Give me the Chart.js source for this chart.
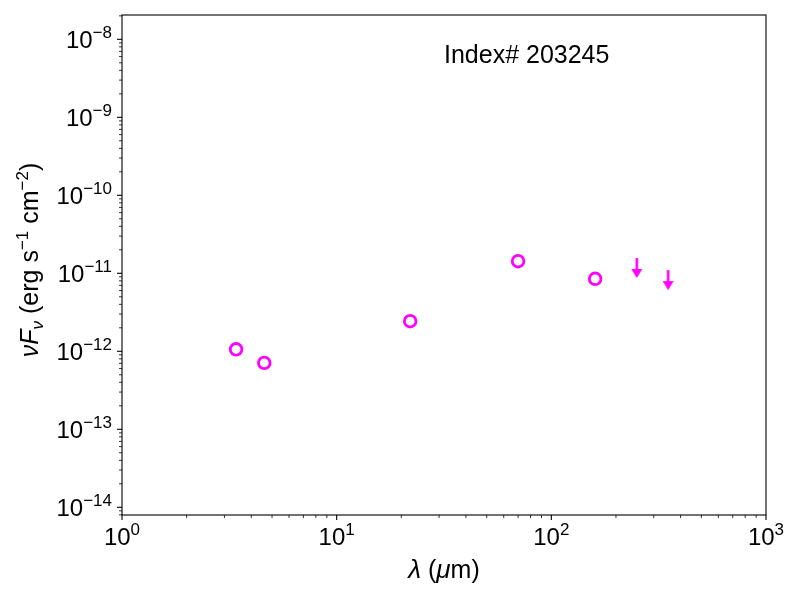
<!DOCTYPE html>
<html>
<head>
<meta charset="utf-8">
<script src="https://cdn.jsdelivr.net/npm/chart.js@4"></script>
<style>
  html, body { margin: 0; padding: 0; background: #fff; }
  #wrap { width: 800px; height: 600px; position: relative; }
</style>
</head>
<body>
<div id="wrap"><canvas id="sedChart"></canvas></div>
<script>
const wavelengths = [3.4, 4.6, 22, 70, 160];
const fluxes = [1.06e-12, 7.1e-13, 2.43e-12, 1.43e-11, 8.5e-12];
const limitWavelengths = [250, 350];
const limitFluxes = [1.57e-11, 1.10e-11];
const xTicks = [1, 10, 100, 1000];
const yTicks = [1e-14, 1e-13, 1e-12, 1e-11, 1e-10, 1e-9, 1e-8];
const sourceLabel = "Index# 203245";

const magenta = "#ff00ff";
const FONT = "'Liberation Sans', Arial, Helvetica, sans-serif";

// arrow image for upper limits, the data point sits at the top of the shaft
function makeArrow(color) {
  const c = document.createElement("canvas");
  c.width = 14; c.height = 42;
  const g = c.getContext("2d");
  g.strokeStyle = color;
  g.lineWidth = 2.6;
  g.beginPath();
  g.moveTo(7, 21);
  g.lineTo(7, 34);
  g.stroke();
  g.fillStyle = color;
  g.beginPath();
  g.moveTo(1.5, 32);
  g.lineTo(12.5, 32);
  g.lineTo(7, 41);
  g.closePath();
  g.fill();
  return c;
}

// draws a row of text pieces (regular / italic / super / sub)
function drawRuns(ctx, runs, x, y, align) {
  let total = 0;
  runs.forEach(r => { ctx.font = r.font; r.w = ctx.measureText(r.text).width; total += r.w; });
  let cx = align === "center" ? x - total / 2 : align === "right" ? x - total : x;
  ctx.textAlign = "left";
  ctx.textBaseline = "alphabetic";
  runs.forEach(r => {
    ctx.font = r.font;
    ctx.fillText(r.text, cx, y + (r.dy || 0));
    cx += r.w;
  });
}

function powerRuns(v) {
  const e = Math.round(Math.log10(v));
  return [
    { text: "10", font: "24px " + FONT },
    { text: String(e).replace("-", "\u2212"), font: "17px " + FONT, dy: -10 }
  ];
}

function minorValues(min, max) {
  const out = [];
  for (let e = Math.floor(Math.log10(min)); e <= Math.ceil(Math.log10(max)); e++) {
    for (let k = 1; k <= 9; k++) {
      const v = k * Math.pow(10, e);
      if (v >= min * 0.9999 && v <= max * 1.0001) out.push({ v, major: k === 1 });
    }
  }
  return out;
}

const axesPlugin = {
  id: "axesPlugin",
  afterDraw(chart) {
    const ctx = chart.ctx;
    const a = chart.chartArea;
    const xs = chart.scales.x, ys = chart.scales.y;
    ctx.save();
    ctx.strokeStyle = "#000";
    ctx.fillStyle = "#000";

    // frame
    ctx.lineWidth = 1.1;
    ctx.strokeRect(a.left, a.top, a.right - a.left, a.bottom - a.top);

    // ticks
    minorValues(xs.min, xs.max).forEach(t => {
      const px = xs.getPixelForValue(t.v);
      ctx.lineWidth = t.major ? 1.1 : 0.8;
      ctx.beginPath();
      ctx.moveTo(px, a.bottom);
      ctx.lineTo(px, a.bottom + (t.major ? 5 : 3));
      ctx.stroke();
    });
    minorValues(ys.min, ys.max).forEach(t => {
      const py = ys.getPixelForValue(t.v);
      ctx.lineWidth = t.major ? 1.1 : 0.8;
      ctx.beginPath();
      ctx.moveTo(a.left, py);
      ctx.lineTo(a.left - (t.major ? 5 : 3), py);
      ctx.stroke();
    });

    // tick labels
    xTicks.forEach(v => drawRuns(ctx, powerRuns(v), xs.getPixelForValue(v), a.bottom + 30, "center"));
    yTicks.forEach(v => drawRuns(ctx, powerRuns(v), a.left - 10, ys.getPixelForValue(v) + 9, "right"));

    // x title
    drawRuns(ctx, [
      { text: "\u03bb", font: "italic 26px " + FONT },
      { text: " (", font: "25px " + FONT },
      { text: "\u03bc", font: "italic 26px " + FONT },
      { text: "m)", font: "25px " + FONT }
    ], (a.left + a.right) / 2, 578, "center");

    // y title
    ctx.save();
    ctx.translate(38, 260);
    ctx.rotate(-Math.PI / 2);
    drawRuns(ctx, [
      { text: "\u03bdF", font: "italic 25px " + FONT },
      { text: "\u03bd", font: "italic 17px " + FONT, dy: 5 },
      { text: " (erg s", font: "25px " + FONT },
      { text: "\u22121", font: "17px " + FONT, dy: -10 },
      { text: " cm", font: "25px " + FONT },
      { text: "\u22122", font: "17px " + FONT, dy: -10 },
      { text: ")", font: "25px " + FONT }
    ], 0, 0, "center");
    ctx.restore();

    // source label
    drawRuns(ctx, [{ text: sourceLabel, font: "25px " + FONT }], a.left + 0.5 * (a.right - a.left), 63, "left");
    ctx.restore();
  }
};

new Chart(document.getElementById("sedChart"), {
  type: "scatter",
  data: {
    datasets: [{
      label: "Detections",
      data: wavelengths.map((x, i) => ({ x, y: fluxes[i] })),
      pointStyle: "circle",
      pointRadius: 5.8,
      borderWidth: 2.8,
      borderColor: magenta,
      backgroundColor: "rgba(0,0,0,0)"
    }, {
      label: "Upper limits",
      data: limitWavelengths.map((x, i) => ({ x, y: limitFluxes[i] })),
      pointStyle: makeArrow(magenta),
      pointRadius: 10,
      borderColor: magenta,
      backgroundColor: magenta
    }]
  },
  options: {
    responsive: true,
    maintainAspectRatio: false,
    animation: false,
    events: [],
    layout: { padding: { top: 15, right: 34, left: 0, bottom: 0 } },
    plugins: {
      legend: { display: false },
      tooltip: { enabled: false }
    },
    scales: {
      x: {
        type: "logarithmic",
        min: 1,
        max: 1000,
        grid: { display: false },
        border: { display: false },
        ticks: { display: false },
        afterFit: s => { s.height = 85; }
      },
      y: {
        type: "logarithmic",
        min: 7.96e-15,
        max: 2.05e-8,
        grid: { display: false },
        border: { display: false },
        ticks: { display: false },
        afterFit: s => { s.width = 122; }
      }
    }
  },
  plugins: [axesPlugin]
});
</script>
</body>
</html>
